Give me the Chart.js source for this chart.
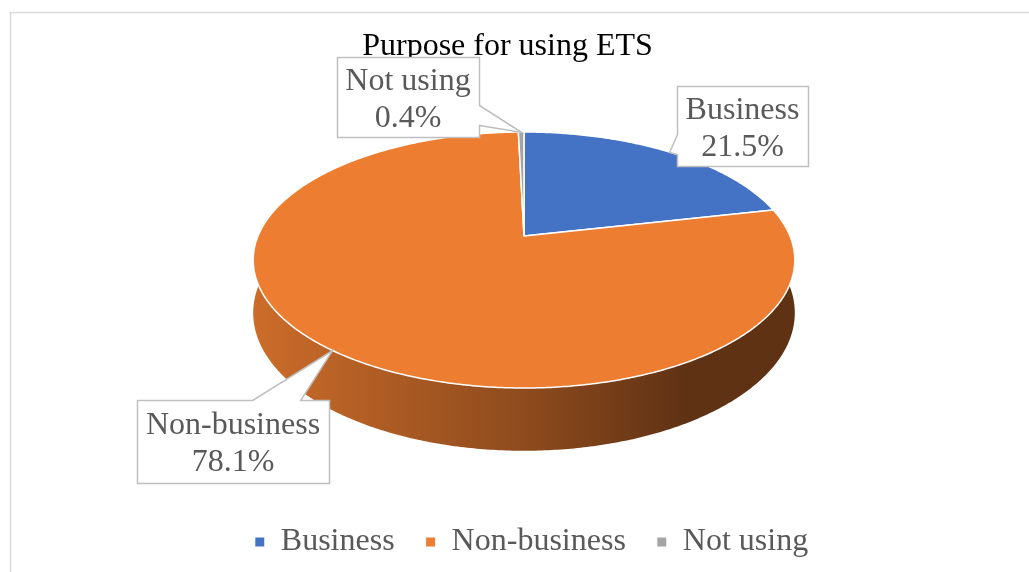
<!DOCTYPE html>
<html>
<head>
<meta charset="utf-8">
<title>Purpose for using ETS</title>
<script src="https://cdn.jsdelivr.net/npm/chart.js@4.4.0/dist/chart.umd.min.js"></script>
<style>
  html, body { margin: 0; padding: 0; background: #fff; }
  #wrap { width: 1029px; height: 572px; }
</style>
</head>
<body>
<div id="wrap"><canvas id="purposeChart"></canvas></div>
<script>
let purposeLabels = ["Business", "Non-business", "Not using"];
let purposeShares = [21.5, 78.1, 0.4];

let purposeColors = ["#4472c4", "#ed7d31", "#a5a5a5"];
const serif = "'Liberation Serif', 'Times New Roman', serif";

// tilted disc seen in perspective: centre, half axes, tilt strength, thickness
const disc = { x0: 524, y0: 236, ax: 266, ay: 123.5, k: 0.1875, depth: 51 };

// where each data label box sits
const labelBoxes = [
    { x: 677, y: 86, w: 131, h: 80 },
    { x: 137, y: 400, w: 192, h: 83 },
    { x: 337, y: 57, w: 142, h: 80 },
];

// point on the rim at angle t (screen angle, 0 = right, PI/2 = front)
function rim(t, drop) {
    let w = 1 - disc.k * Math.sin(t);
    return {
        x: disc.x0 + (disc.ax * Math.cos(t)) / w,
        y: disc.y0 + (disc.ay * Math.sin(t) + drop) / w,
    };
}

function traceRim(ctx, from, to, drop, first) {
    let n = Math.max(2, Math.ceil(Math.abs(to - from) / 0.01));
    for (let i = 0; i <= n; i++) {
        let p = rim(from + ((to - from) * i) / n, drop);
        if (i === 0 && first) ctx.moveTo(p.x, p.y);
        else ctx.lineTo(p.x, p.y);
    }
}

function shade(hex, f) {
    let n = parseInt(hex.slice(1), 16);
    let r = Math.round(((n >> 16) & 255) * f);
    let g = Math.round(((n >> 8) & 255) * f);
    let b = Math.round((n & 255) * f);
    return "rgb(" + r + "," + g + "," + b + ")";
}

function drawCallout(ctx, box, tip, lines) {
    let { x, y, w, h } = box;
    let inY = tip.y >= y && tip.y <= y + h;
    let pts;
    if (inY && tip.x > x + w) {
        pts = [[x, y], [x + w, y], [x + w, y + h * 0.6], [tip.x, tip.y], [x + w, y + h * 0.85], [x + w, y + h], [x, y + h]];
    } else if (inY && tip.x < x) {
        pts = [[x, y], [x + w, y], [x + w, y + h], [x, y + h], [x, y + h * 0.85], [tip.x, tip.y], [x, y + h * 0.6]];
    } else if (tip.y < y) {
        pts = [[x, y], [x + w * 0.6, y], [tip.x, tip.y], [x + w * 0.85, y], [x + w, y], [x + w, y + h], [x, y + h]];
    } else {
        pts = [[x, y], [x + w, y], [x + w, y + h], [x + w * 0.85, y + h], [tip.x, tip.y], [x + w * 0.6, y + h], [x, y + h]];
    }
    ctx.save();
    ctx.beginPath();
    pts.forEach((p, i) => (i ? ctx.lineTo(p[0] + 0.5, p[1] + 0.5) : ctx.moveTo(p[0] + 0.5, p[1] + 0.5)));
    ctx.closePath();
    ctx.fillStyle = "#ffffff";
    ctx.fill();
    ctx.lineWidth = 1.5;
    ctx.strokeStyle = "#bfbfbf";
    ctx.stroke();

    ctx.fillStyle = "#595959";
    ctx.font = "32px " + serif;
    ctx.textAlign = "center";
    ctx.textBaseline = "middle";
    let lh = 37;
    let midY = y + h / 2 + 3 - ((lines.length - 1) * lh) / 2;
    lines.forEach((t, i) => ctx.fillText(t, x + w / 2, midY + i * lh));
    ctx.restore();
}

const disc3d = {
    id: "disc3d",
    afterLayout(chart) {
        // title sits a bit left of the legend's centre
        chart.titleBlock.left -= 24;
        chart.titleBlock.right -= 24;
    },
    beforeDraw(chart) {
        // outer chart frame
        let ctx = chart.ctx;
        ctx.save();
        ctx.strokeStyle = "#d9d9d9";
        ctx.lineWidth = 1.5;
        ctx.strokeRect(10.5, 12.5, 1200, 700);
        ctx.restore();
    },
    beforeDatasetsDraw(chart) {
        let ctx = chart.ctx;
        let arcs = chart.getDatasetMeta(0).data;
        let left = disc.x0 - disc.ax * 1.02;
        let right = disc.x0 + disc.ax * 1.02;
        ctx.save();

        // side wall, front part of each slice (the top face hides the rest)
        arcs.forEach((arc, i) => {
            let a = Math.max(arc.startAngle, -0.5);
            let b = Math.min(arc.endAngle, Math.PI + 0.5);
            if (b <= a) return;
            let base = purposeColors[i];
            let grad = ctx.createLinearGradient(left, 0, right, 0);
            grad.addColorStop(0, shade(base, 0.86));
            grad.addColorStop(0.5, shade(base, 0.6));
            grad.addColorStop(0.8, shade(base, 0.4));
            grad.addColorStop(1, shade(base, 0.4));
            ctx.beginPath();
            traceRim(ctx, a, b, 0, true);
            traceRim(ctx, b, a, disc.depth, false);
            ctx.closePath();
            ctx.fillStyle = grad;
            ctx.fill();
        });

        // top face
        arcs.forEach((arc, i) => {
            ctx.beginPath();
            ctx.moveTo(disc.x0, disc.y0);
            traceRim(ctx, arc.startAngle, arc.endAngle, 0, false);
            ctx.closePath();
            ctx.fillStyle = purposeColors[i];
            ctx.fill();
            ctx.lineWidth = 1.5;
            ctx.lineJoin = "round";
            ctx.strokeStyle = "#ffffff";
            ctx.stroke();
        });
        ctx.restore();
        return false;
    },
    afterDraw(chart) {
        let ctx = chart.ctx;
        let arcs = chart.getDatasetMeta(0).data;
        arcs.forEach((arc, i) => {
            let tip = rim((arc.startAngle + arc.endAngle) / 2, 0);
            drawCallout(ctx, labelBoxes[i], tip, [purposeLabels[i], purposeShares[i].toFixed(1) + "%"]);
        });
    },
};

let purposeCtx = document.getElementById("purposeChart").getContext("2d");

let purposeChart = new Chart(purposeCtx, {
    type: "pie",
    data: {
        labels: purposeLabels,
        datasets: [
            {
                label: "Purpose for using ETS",
                data: purposeShares,
                backgroundColor: purposeColors,
                borderColor: "#ffffff",
                borderWidth: 1,
            },
        ],
    },
    options: {
        responsive: true,
        maintainAspectRatio: false,
        animation: false,
        events: [],
        layout: {
            padding: { left: 44, right: 10, top: 0, bottom: 4 },
        },
        plugins: {
            title: {
                display: true,
                text: "Purpose for using ETS",
                color: "#000000",
                font: { family: serif, size: 32, weight: "normal" },
                padding: { top: 27, bottom: 10 },
            },
            legend: {
                position: "bottom",
                labels: {
                    color: "#595959",
                    font: { family: serif, size: 32 },
                    boxWidth: 10,
                    boxHeight: 10,
                    padding: 31,
                },
            },
            tooltip: { enabled: false },
        },
    },
    plugins: [disc3d],
});
</script>
</body>
</html>
